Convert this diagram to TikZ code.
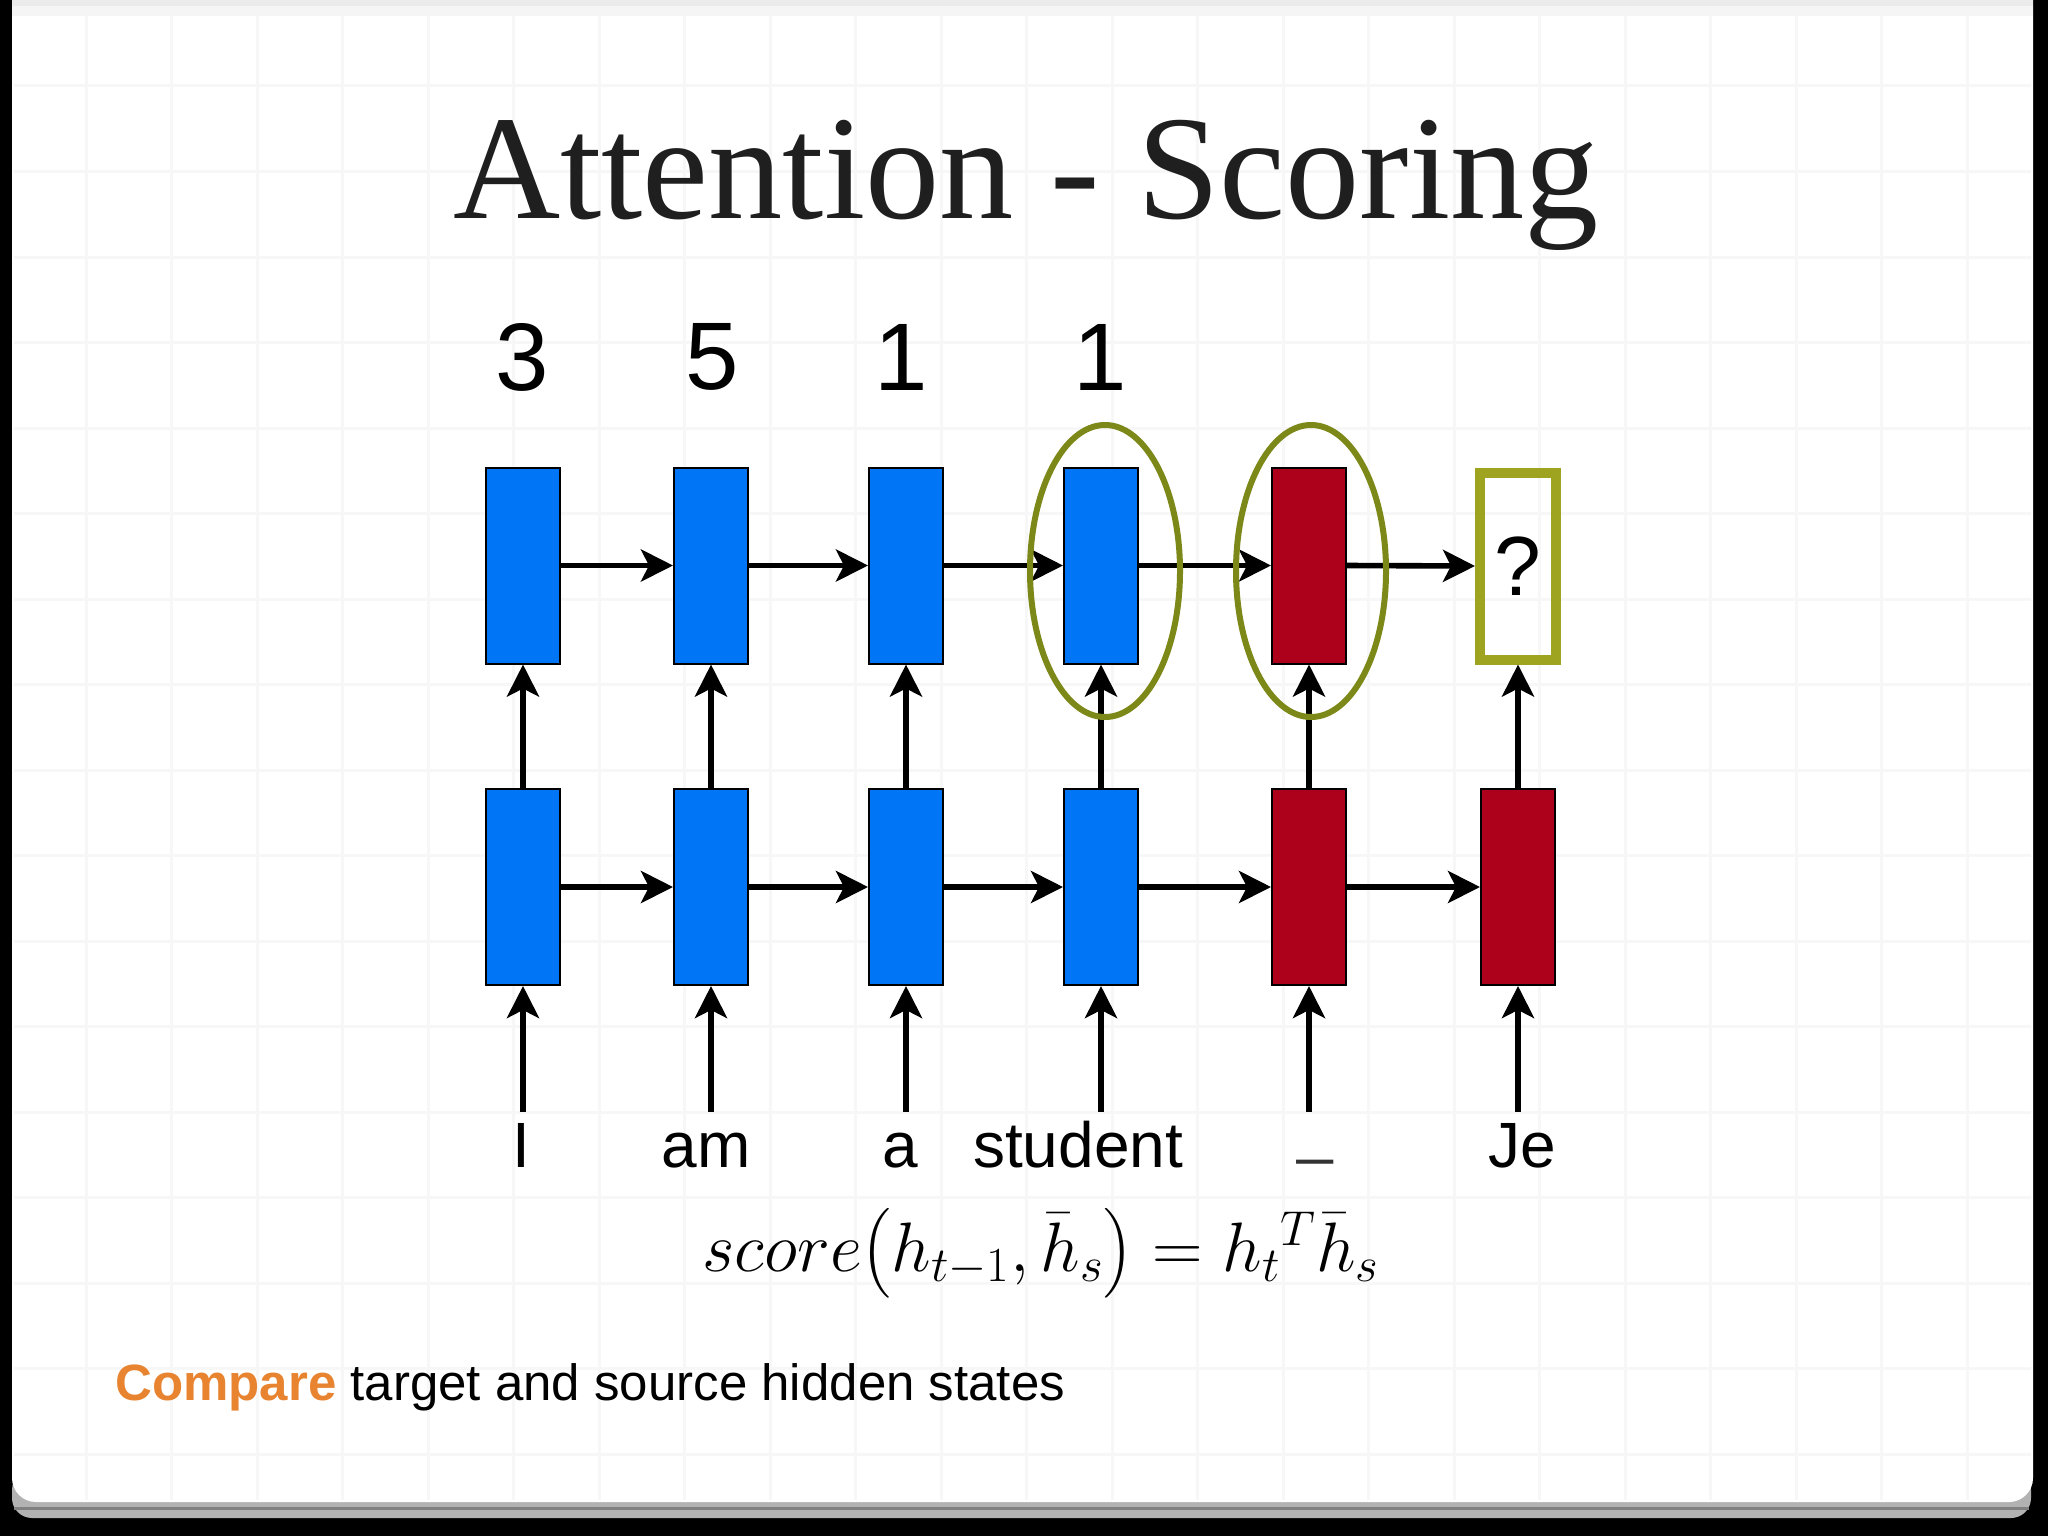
\RequirePackage{fix-cm}
\documentclass[tikz,border=0pt]{standalone}
\usepackage{exscale}
\usepackage{fontspec}
\setmainfont{Liberation Sans}
\newfontfamily\titlefont{Liberation Serif}
\usetikzlibrary{arrows.meta,shapes.geometric}
\definecolor{cellblue}{RGB}{0,118,246}
\definecolor{cellred}{RGB}{172,0,27}
\definecolor{ringolive}{RGB}{124,136,24}
\definecolor{askolive}{RGB}{158,163,32}
\definecolor{keyorange}{RGB}{232,131,47}
\begin{document}
\begin{tikzpicture}[x=0.5pt,y=-0.5pt,
  cell/.style={draw=black,line width=1pt,minimum width=37pt,minimum height=98pt,inner sep=0pt},
  enc/.style={cell,fill=cellblue},
  dec/.style={cell,fill=cellred},
  flow/.style={line width=2.8pt,-{Stealth[length=16pt,width=16pt,inset=4pt]}},
  ring/.style={draw=ringolive,line width=3pt,ellipse,minimum width=75pt,minimum height=146pt,inner sep=0pt},
  word/.style={anchor=base,inner sep=0pt,font=\fontsize{32}{38}\selectfont},
  score/.style={font=\fontsize{48}{56}\selectfont}]
\useasboundingbox (0,0) rectangle (2048,1536);
\fill[black] (0,0) rectangle (2048,1536);
\fill[black!30,rounded corners=10pt] (12,1470) rectangle (2031,1518);
\fill[black!50] (14,1507) rectangle (2029,1510);
\fill[white,rounded corners=12pt] (12,-40) rectangle (2033,1502);
\fill[black!8] (12,0) rectangle (2033,6);
\fill[black!4] (12,6) rectangle (2033,16);
\foreach \g in {86,171.5,...,2030} \draw[black!3,line width=1.5pt] (\g,16) -- (\g,1500);
\foreach \g in {86,171.5,...,1500} \draw[black!3,line width=1.5pt] (14,\g) -- (2031,\g);

\node[anchor=base,font=\titlefont\fontsize{74.2}{88}\selectfont,text=black!88] (title) at (1026,218) {Attention - Scoring};

\foreach \i/\x/\n in {1/522/3,2/712/5,3/901/1,4/1100/1} \node[score] (s\i) at (\x,357) {\n};

\foreach \i/\x/\s in {1/523/enc,2/711/enc,3/906/enc,4/1101/enc,5/1309/dec} \node[\s] (u\i) at (\x,565.5) {};
\node[draw=askolive,line width=5pt,minimum width=38pt,minimum height=93.5pt,inner sep=0pt,font=\fontsize{42}{48}\selectfont] (u6) at (1518,566) {?};
\foreach \i/\x/\s in {1/523/enc,2/711/enc,3/906/enc,4/1101/enc,5/1309/dec,6/1518/dec} \node[\s] (l\i) at (\x,887) {};

\foreach \a/\b in {u1/u2,u2/u3,u3/u4,u4/u5,u5/u6,l1/l2,l2/l3,l3/l4,l4/l5,l5/l6} \draw[flow] (\a.east) -- (\b.west);
\foreach \i in {1,...,6} {
  \coordinate (in\i) at (l\i |- 0,1112);
  \draw[flow] (l\i.north) -- (u\i.south);
  \draw[flow] (in\i) -- (l\i.south);
}

\node[ring] (r4) at (1105,571) {};
\node[ring] (r5) at (1311,571) {};

\node[word] (w1) at (521,1167) {I};
\node[word] (w2) at (706,1167) {am};
\node[word] (w3) at (900,1167) {a};
\node[word] (w4) at (1078,1167) {student};
\node[word,text=black!80] (w5) at (1315,1151) {\_};
\node[word] (w6) at (1522,1167) {Je};

\node[anchor=base,inner sep=0pt,font=\fontsize{35}{40}\selectfont] (eq) at (1041,1271) {$score\bigl(h_{t-1},\bar{h}_s\bigr)=h_t{}^{T}\bar{h}_s$};

\node[anchor=base west,inner sep=0pt,font=\fontsize{25.5}{31}\selectfont] (note) at (115,1400) {\textcolor{keyorange}{\textbf{Compare}} target and source hidden states};
\end{tikzpicture}
\end{document}
